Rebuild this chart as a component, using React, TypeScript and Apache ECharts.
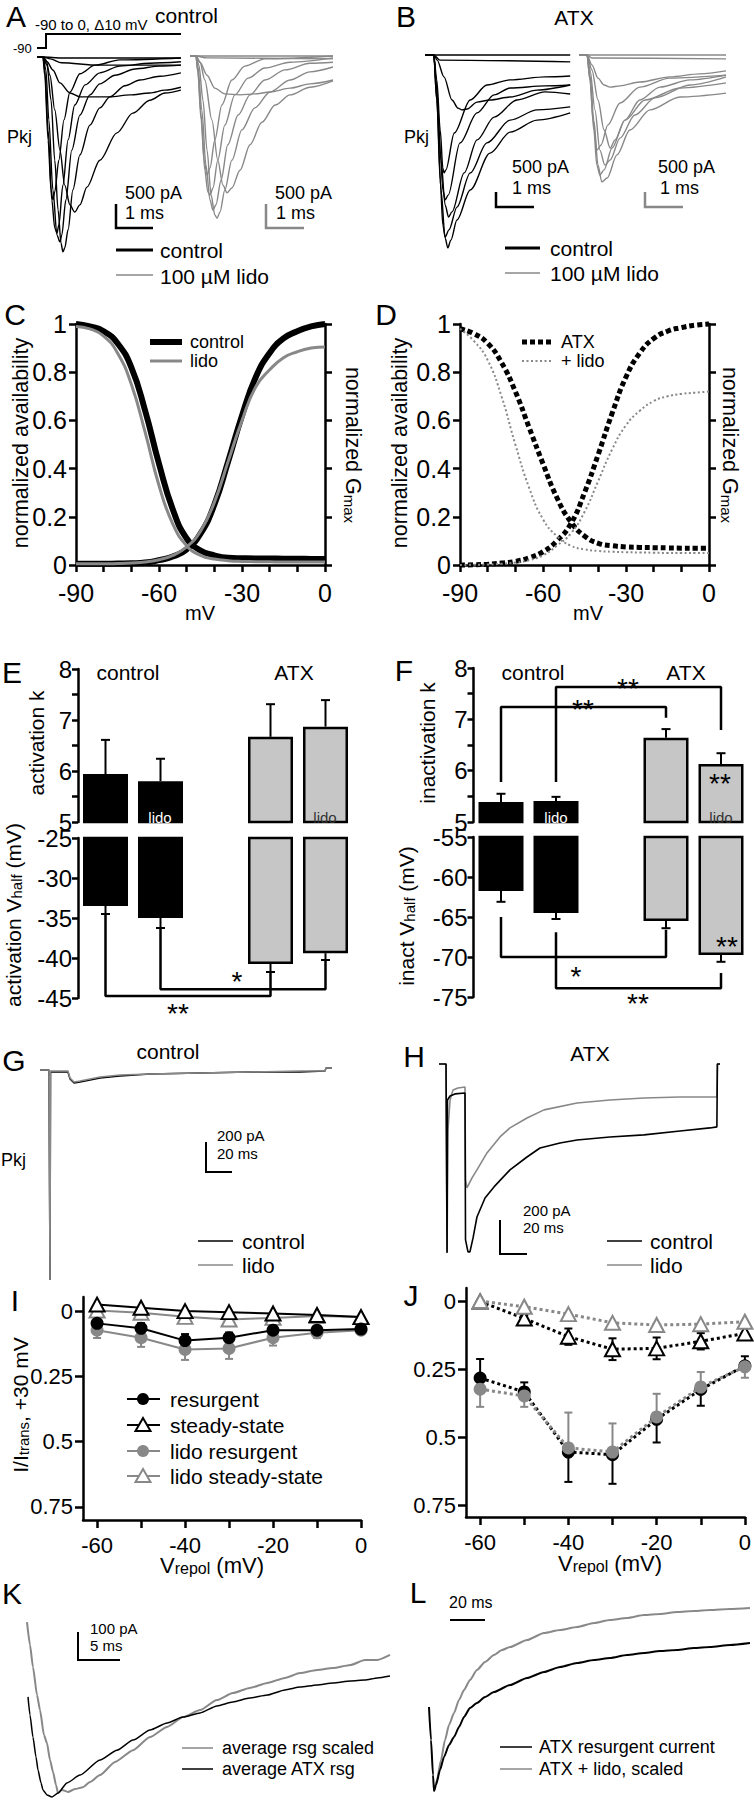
import React, { useEffect, useRef } from 'react';
import * as echarts from 'echarts';

const FONT = '"Liberation Sans", Arial, Helvetica, sans-serif';
const BLACK = '#000000';
const GRAY = '#888888';
const BAR_GRAY = '#c6c6c6';

// ---------- Panel A: Na currents, steps -90..0 mV (time ms, current nA) ----------
const aCtrlM70 = [[-0.16, 0], [0, 0], [0.5, -0.02], [3.73, -0.02]];
const aCtrlM60 = [[-0.16, 0], [0, 0], [0.2, -0.04], [0.5, -0.12], [1.5, -0.17], [3.73, -0.17]];
const aCtrlM50 = [[-0.16, 0], [0, 0], [0.11, -0.1], [0.27, -0.27], [0.46, -0.54], [0.73, -0.75], [1.0, -0.83], [1.41, -0.83], [1.81, -0.83], [2.35, -0.79], [2.89, -0.75], [3.3, -0.69], [3.73, -0.63]];
const aCtrlM40 = [[-0.16, 0], [0, 0], [0.08, -0.06], [0.19, -0.38], [0.32, -1.1], [0.46, -1.94], [0.59, -2.67], [0.73, -3.08], [0.86, -3.23], [1.0, -3.08], [1.19, -2.71], [1.54, -2.15], [2.0, -1.58], [2.43, -1.17], [2.89, -0.9], [3.3, -0.75], [3.73, -0.69]];
const aCtrlM30 = [[-0.16, 0], [0, 0], [0.11, -0.17], [0.22, -0.9], [0.32, -2.15], [0.41, -3.19], [0.49, -3.88], [0.54, -4.06], [0.59, -3.98], [0.68, -3.6], [0.81, -2.77], [1.0, -2.04], [1.27, -1.42], [1.54, -1.06], [1.81, -0.83], [2.22, -0.6], [2.62, -0.48], [3.16, -0.4], [3.73, -0.33]];
const aCtrlM20 = [[-0.16, 0], [0, 0], [0.08, -0.27], [0.16, -1.31], [0.27, -2.77], [0.38, -3.71], [0.46, -3.85], [0.51, -3.71], [0.62, -2.98], [0.78, -1.94], [1.0, -1.21], [1.27, -0.79], [1.54, -0.56], [1.95, -0.38], [2.49, -0.25], [3.16, -0.19], [3.73, -0.17]];
const aCtrlM10 = [[-0.16, 0], [0, 0], [0.05, -0.27], [0.14, -1.52], [0.24, -2.98], [0.32, -3.56], [0.38, -3.67], [0.43, -3.5], [0.54, -2.67], [0.68, -1.73], [0.86, -1.0], [1.14, -0.58], [1.54, -0.33], [2.08, -0.19], [2.89, -0.13], [3.73, -0.1]];
const aCtrl0 = [[-0.16, 0], [0, 0], [0.05, -0.38], [0.14, -1.73], [0.22, -2.77], [0.27, -2.98], [0.32, -2.81], [0.43, -2.15], [0.57, -1.31], [0.73, -0.73], [1.0, -0.35], [1.41, -0.17], [2.08, -0.06], [3.73, -0.02]];

const aLidoM70 = [[-0.16, 0], [0, 0], [3.7, 0]];
const aLidoM60 = [[-0.16, 0], [0, 0], [0.3, -0.04], [3.7, -0.06]];
const aLidoM50 = [[-0.16, 0], [0, 0], [0.11, -0.13], [0.3, -0.4], [0.51, -0.67], [0.78, -0.79], [1.19, -0.81], [1.59, -0.79], [2.0, -0.75], [2.54, -0.67], [3.08, -0.58], [3.7, -0.5]];
const aLidoM40 = [[-0.16, 0], [0, 0], [0.11, -0.13], [0.24, -0.5], [0.43, -1.33], [0.59, -2.17], [0.73, -2.69], [0.84, -2.85], [0.97, -2.75], [1.19, -2.38], [1.46, -1.85], [1.78, -1.38], [2.14, -1.02], [2.54, -0.81], [3.08, -0.65], [3.7, -0.52]];
const aLidoM30 = [[-0.16, 0], [0, 0], [0.08, -0.19], [0.19, -0.92], [0.3, -1.96], [0.41, -2.9], [0.51, -3.31], [0.57, -3.38], [0.65, -3.25], [0.78, -2.79], [0.97, -2.17], [1.24, -1.54], [1.59, -1.08], [2.0, -0.75], [2.54, -0.5], [3.08, -0.33], [3.7, -0.23]];
const aLidoM20 = [[-0.16, 0], [0, 0], [0.05, -0.19], [0.16, -1.13], [0.27, -2.27], [0.38, -3.0], [0.46, -3.21], [0.54, -3.1], [0.68, -2.58], [0.86, -1.85], [1.14, -1.23], [1.46, -0.81], [1.86, -0.5], [2.41, -0.29], [3.08, -0.15], [3.7, -0.13]];
const aLidoM10 = [[-0.16, 0], [0, 0], [0.05, -0.29], [0.14, -1.23], [0.24, -2.38], [0.32, -2.83], [0.38, -2.9], [0.46, -2.75], [0.59, -2.17], [0.78, -1.44], [1.05, -0.81], [1.41, -0.46], [1.86, -0.25], [2.54, -0.13], [3.7, -0.04]];
const aLido0 = [[-0.16, 0], [0, 0], [0.05, -0.33], [0.14, -1.33], [0.22, -2.17], [0.3, -2.48], [0.38, -2.33], [0.51, -1.75], [0.7, -1.02], [0.97, -0.5], [1.32, -0.21], [1.86, -0.06], [3.7, 0]];

// ---------- Panel B: ATX (time ms, current nA) ----------
const bCtrlM70 = [[-0.23, 0], [3.59, 0]];
const bCtrlM60 = [[-0.23, 0], [0, 0], [0.16, -0.17], [3.59, -0.23]];
const bCtrlM50 = [[-0.23, 0], [0, 0], [0.09, -0.17], [0.27, -0.73], [0.48, -1.5], [0.64, -1.77], [0.74, -1.83], [0.88, -1.8], [1.14, -1.57], [1.48, -1.5], [2.01, -1.4], [2.72, -1.17], [3.59, -1.0]];
const bCtrlM40 = [[-0.23, 0], [0, 0], [0.08, -0.83], [0.17, -2.5], [0.24, -3.77], [0.27, -3.93], [0.32, -3.83], [0.54, -2.6], [0.96, -1.5], [1.4, -1.0], [2.01, -0.83], [2.93, -0.73], [3.59, -0.7]];
const bCtrlM30 = [[-0.23, 0], [0, 0], [0.08, -1.17], [0.17, -3.17], [0.24, -4.5], [0.3, -4.83], [0.38, -4.67], [0.69, -2.93], [1.14, -1.93], [1.59, -1.33], [2.01, -1.1], [2.93, -1.03], [3.59, -1.0]];
const bCtrlM20 = [[-0.23, 0], [0, 0], [0.08, -1.17], [0.19, -3.5], [0.3, -5.0], [0.39, -5.4], [0.48, -5.23], [0.8, -3.93], [1.14, -2.83], [1.59, -2.07], [2.19, -1.5], [2.93, -1.23], [3.59, -1.3]];
const bCtrlM10 = [[-0.23, 0], [0, 0], [0.08, -1.5], [0.17, -4.17], [0.24, -5.67], [0.3, -6.07], [0.4, -5.83], [0.61, -5.07], [0.96, -3.93], [1.4, -2.93], [2.01, -2.17], [2.72, -1.83], [3.59, -1.73]];
const bCtrl0 = [[-0.23, 0], [0, 0], [0.08, -1.5], [0.19, -4.5], [0.3, -6.1], [0.37, -6.43], [0.45, -6.17], [0.61, -5.5], [0.96, -4.5], [1.48, -3.27], [2.01, -2.57], [2.72, -2.17], [3.59, -1.93]];

const bLidoM70 = [[-0.21, 0], [3.66, 0]];
const bLidoM60 = [[-0.21, 0], [0, 0], [0.13, -0.1], [3.66, -0.13]];
const bLidoM50 = [[-0.21, 0], [0, 0], [0.13, -0.33], [0.29, -0.77], [0.45, -1.0], [0.61, -1.07], [0.87, -1.03], [1.39, -0.9], [2.18, -0.73], [2.97, -0.63], [3.66, -0.53]];
const bLidoM40 = [[-0.21, 0], [0, 0], [0.13, -0.5], [0.29, -1.5], [0.45, -2.5], [0.61, -3.1], [0.74, -2.83], [1.0, -2.17], [1.39, -1.5], [1.92, -1.07], [2.71, -0.83], [3.66, -0.67]];
const bLidoM30 = [[-0.21, 0], [0, 0], [0.08, -0.5], [0.21, -1.83], [0.34, -3.17], [0.47, -3.67], [0.61, -3.5], [0.87, -2.77], [1.26, -2.0], [1.79, -1.43], [2.71, -1.0], [3.66, -0.73]];
const bLidoM20 = [[-0.21, 0], [0, 0], [0.08, -0.67], [0.18, -2.17], [0.29, -3.67], [0.39, -4.23], [0.53, -4.1], [0.79, -3.33], [1.13, -2.5], [1.66, -1.83], [2.45, -1.4], [3.66, -1.27]];
const bLidoM10 = [[-0.21, 0], [0, 0], [0.08, -0.83], [0.18, -2.5], [0.26, -3.67], [0.34, -4.0], [0.45, -3.83], [0.66, -3.1], [1.0, -2.17], [1.53, -1.5], [2.45, -1.1], [3.66, -0.93]];
const bLido0 = [[-0.21, 0], [0, 0], [0.08, -0.83], [0.16, -2.17], [0.26, -3.17], [0.37, -3.0], [0.55, -2.33], [0.87, -1.6], [1.39, -1.07], [2.18, -0.77], [3.66, -0.67]];

// ---------- Panels C, D: Boltzmann relations (mV vs normalized) ----------
const vCD = [-90, -85, -80, -75, -70, -65, -60, -55, -50, -45, -40, -35, -30, -25, -20, -15, -10, -5, 0];
const cCtrlInact = [1.0, 0.99, 0.97, 0.92, 0.82, 0.64, 0.42, 0.23, 0.11, 0.06, 0.04, 0.03, 0.028, 0.027, 0.027, 0.026, 0.026, 0.025, 0.025];
const cLidoInact = [0.99, 0.98, 0.95, 0.88, 0.75, 0.55, 0.33, 0.17, 0.08, 0.04, 0.025, 0.018, 0.015, 0.014, 0.013, 0.012, 0.012, 0.012, 0.012];
const cCtrlAct = [0.005, 0.005, 0.005, 0.006, 0.007, 0.01, 0.02, 0.035, 0.065, 0.13, 0.25, 0.43, 0.62, 0.78, 0.88, 0.94, 0.97, 0.99, 1.0];
const cLidoAct = [0.005, 0.005, 0.005, 0.006, 0.008, 0.012, 0.022, 0.04, 0.075, 0.14, 0.26, 0.43, 0.6, 0.74, 0.81, 0.86, 0.885, 0.9, 0.905];
const dAtxInact = [0.98, 0.96, 0.92, 0.84, 0.72, 0.57, 0.42, 0.28, 0.18, 0.12, 0.09, 0.08, 0.075, 0.073, 0.072, 0.071, 0.07, 0.07, 0.07];
const dLidoInact = [0.98, 0.93, 0.85, 0.7, 0.5, 0.32, 0.19, 0.12, 0.08, 0.065, 0.058, 0.055, 0.053, 0.052, 0.051, 0.05, 0.05, 0.05, 0.05];
const dAtxAct = [0.0, 0.001, 0.003, 0.008, 0.015, 0.03, 0.055, 0.1, 0.17, 0.3, 0.46, 0.63, 0.78, 0.88, 0.94, 0.97, 0.985, 0.995, 1.0];
const dLidoAct = [0.0, 0.001, 0.002, 0.005, 0.01, 0.02, 0.04, 0.08, 0.13, 0.22, 0.35, 0.48, 0.58, 0.64, 0.68, 0.7, 0.71, 0.715, 0.72];

// ---------- Panels E, F: bars (control, control+lido, ATX, ATX+lido) ----------
const barPos = [0, 1, 3, 4];
const eK = [5.94, 5.8, 6.67, 6.87];
const eKErr = [0.67, 0.44, 0.64, 0.52];
const eV = [-33.5, -35.0, -40.75, -39.4];
const eVErr = [1.0, 1.25, 1.0, 0.85];
const fK = [5.39, 5.41, 6.64, 6.13];
const fKErr = [0.16, 0.08, 0.17, 0.21];
const fV = [-61.75, -64.5, -65.5, -69.75];
const fVErr = [1.35, 0.75, 0.9, 0.85];
const eBracket1 = [[0, -34.5], [0, -44.75], [3, -44.75], [3, -41.75]];
const eBracket2 = [[1, -36.25], [1, -43.9], [4, -43.9], [4, -40.25]];
const fBracket1 = [[0, 5.78], [0, 7.24], [3, 7.24], [3, 7.03]];
const fBracket2 = [[1, 5.78], [1, 7.63], [4, 7.63], [4, 6.79]];
const fBracket3 = [[0, -65], [0, -70], [3, -70], [3, -66.6]];
const fBracket4 = [[1, -66.9], [1, -73.9], [4, -73.9], [4, -72.0]];

// ---------- Panels G, H: resurgent protocol traces (ms, pA) ----------
const gCtrl = [[0, 0], [6.9, 0], [7.7, -1400], [8.1, -13], [21.5, -13], [23.1, -60], [26.2, -87], [30.8, -80], [38.5, -67], [46.2, -53], [61.5, -40], [84.6, -27], [123.1, -20], [161.5, -13], [200, -13], [219.2, -7], [220, 13], [224.6, 13]];
const gLido = [[0, 0], [6.9, 0], [7.7, -1400], [8.1, -7], [21.5, -7], [23.1, -53], [26.2, -80], [30.8, -73], [38.5, -60], [46.2, -47], [61.5, -33], [84.6, -27], [123.1, -20], [161.5, -13], [200, -7], [219.2, -7], [220, 13], [224.6, 13]];
const hCtrl = [[0, 0], [5.4, 0], [6.2, -1111], [6.5, -212], [8.5, -188], [12.3, -176], [20.0, -171], [20.4, -1035], [22.3, -1105], [23.8, -1105], [26.2, -1023], [29.2, -900], [35.4, -788], [42.3, -723], [54.6, -623], [67.7, -547], [77.7, -494], [93.1, -465], [106.2, -447], [131.5, -429], [157.7, -417], [185.4, -394], [208.5, -376], [213.8, -370], [214.2, 0], [216.2, 0]];
const hLido = [[0, 0], [5.4, 0], [6.2, -1111], [6.9, -388], [8.5, -212], [10.8, -153], [14.6, -141], [20.0, -135], [20.4, -682], [21.5, -729], [25.4, -670], [29.2, -623], [36.9, -523], [46.9, -429], [54.6, -376], [67.7, -318], [80.8, -270], [106.2, -229], [131.5, -212], [157.7, -200], [185.4, -194], [213.8, -194], [214.2, 0], [216.2, 0]];

// ---------- Panels I, J: normalized resurgent / steady-state vs Vrepol ----------
const vRepol = [-60, -50, -40, -30, -20, -10, 0];
const iRes = [0.047, 0.066, 0.113, 0.102, 0.073, 0.073, 0.069];
const iResErr = [0.02, 0.02, 0.025, 0.02, 0.02, 0.015, 0.015];
const iSs = [-0.025, -0.013, 0, 0.004, 0.009, 0.015, 0.023];
const iLidoRes = [0.073, 0.102, 0.147, 0.143, 0.102, 0.083, 0.073];
const iLidoResErr = [0.03, 0.035, 0.04, 0.04, 0.03, 0.02, 0.015];
const iLidoSs = [-0.002, 0.006, 0.022, 0.032, 0.026, 0.019, 0.023];
const jSs = [0.002, 0.064, 0.131, 0.177, 0.174, 0.148, 0.119];
const jSsErr = [0.005, 0.012, 0.03, 0.04, 0.04, 0.03, 0.02];
const jLidoSs = [0, 0.021, 0.048, 0.08, 0.088, 0.085, 0.076];
const jRes = [0.283, 0.334, 0.555, 0.565, 0.435, 0.325, 0.238];
const jResErr = [-0.07, -0.035, 0.11, 0.107, 0.085, 0.06, -0.035];
const jLidoRes = [0.324, 0.349, 0.54, 0.555, 0.426, 0.316, 0.242];
const jLidoResErr = [0.065, 0.04, -0.13, -0.105, -0.085, -0.055, 0.04];

// ---------- Panel K: average resurgent currents (ms, pA) ----------
const kScaled = [[0, -79], [0.36, -161], [0.71, -239], [1.19, -339], [1.55, -393], [2.02, -482], [2.38, -511], [2.74, -571], [3.1, -614], [3.45, -660], [3.69, -689], [4.17, -678], [4.88, -685], [5.71, -675], [6.67, -668], [7.5, -650], [8.69, -625], [10.48, -578], [12.62, -536], [14.64, -489], [16.67, -453], [18.57, -418], [20.6, -393], [22.6, -357], [24.5, -332], [26.5, -314], [28.6, -296], [30.7, -278], [32.5, -261], [34.5, -250], [36.4, -243], [38.5, -232], [40.2, -214], [41.7, -214], [43.2, -196]];
const kAtx = [[0.12, -346], [0.36, -411], [0.71, -489], [1.07, -560], [1.31, -607], [1.67, -653], [1.9, -678], [2.38, -696], [2.98, -703], [3.69, -689], [4.76, -653], [6.31, -625], [8.69, -571], [10.71, -536], [12.62, -500], [14.64, -464], [16.67, -439], [18.57, -418], [20.6, -403], [22.6, -378], [24.5, -364], [26.5, -350], [28.6, -339], [30.7, -321], [32.5, -311], [34.5, -303], [36.4, -296], [38.5, -289], [40.2, -286], [41.7, -278], [43.2, -271]];

// ---------- Panel L: ATX resurgent vs ATX + lido scaled (ms, pA) ----------
const lAtx = [[0, -321], [1.14, -420], [2.29, -525], [2.86, -573], [4.0, -555], [6.29, -510], [8.57, -471], [11.43, -435], [14.29, -411], [17.14, -381], [20.0, -351], [23.4, -324], [27.4, -309], [32.0, -291], [37.1, -276], [46.3, -255], [56.0, -234], [65.7, -216], [74.9, -201], [84.6, -189], [94.3, -180], [103.4, -174], [113.1, -165], [122.9, -159], [132.0, -153], [141.7, -150], [151.4, -144], [160.6, -141], [172.0, -135], [183.4, -129]];
const lLido = [[2.86, -573], [4.57, -540], [6.86, -480], [9.14, -420], [11.43, -375], [14.29, -339], [17.14, -300], [20.0, -270], [23.4, -240], [27.4, -210], [32.0, -186], [37.1, -165], [41.7, -150], [46.3, -141], [56.0, -120], [65.7, -99], [74.9, -90], [84.6, -81], [94.3, -69], [103.4, -60], [113.1, -54], [122.9, -45], [132.0, -42], [141.7, -36], [151.4, -33], [160.6, -30], [172.0, -27], [183.4, -24]];

// ================= option builder =================
function buildOption(): any {
  const grids = [
    { left: 37, top: 42.6, width: 143.9, height: 220.8 },   // 0 A ctrl
    { left: 190, top: 41.6, width: 143, height: 220.8 },    // 1 A lido
    { left: 425, top: 43, width: 145.2, height: 216 },      // 2 B ctrl
    { left: 579, top: 43, width: 147, height: 216 },        // 3 B lido
    { left: 76, top: 324, width: 249, height: 241 },        // 4 C
    { left: 460, top: 324, width: 249, height: 241 },       // 5 D
    { left: 78, top: 669, width: 275, height: 153 },        // 6 E top
    { left: 78, top: 838, width: 275, height: 160 },        // 7 E bottom
    { left: 473.5, top: 668, width: 275, height: 154 },     // 8 F top
    { left: 473.5, top: 837, width: 275, height: 160 },     // 9 F bottom
    { left: 40, top: 1061, width: 292, height: 226.5 },     // 10 G
    { left: 439, top: 1055.5, width: 281, height: 204 },    // 11 H
    { left: 83, top: 1297, width: 278, height: 223 },       // 12 I
    { left: 466, top: 1288, width: 280, height: 229 },      // 13 J
    { left: 27, top: 1600, width: 363, height: 198.9 },     // 14 K
    { left: 429, top: 1600, width: 321, height: 200 },      // 15 L
  ];

  const hidden = (gridIndex: number, min: number, max: number) => ({
    type: 'value', gridIndex, min, max, show: false, splitLine: { show: false },
  });
  const line = { show: true, onZero: false, lineStyle: { color: BLACK, width: 2.5 } };
  const tick = (len = 7) => ({ show: true, inside: false, length: len, lineStyle: { color: BLACK, width: 2.5 } });
  const label = (size: number, margin: number) => ({ show: true, color: BLACK, fontSize: size, fontFamily: FONT, margin });

  const xAxis: any[] = [
    hidden(0, -0.16, 3.73),
    hidden(1, -0.16, 3.7),
    hidden(2, -0.23, 3.59),
    hidden(3, -0.21, 3.66),
    { type: 'value', gridIndex: 4, min: -90, max: 0, interval: 30, axisLine: line, axisTick: tick(7),
      minorTick: { show: true, splitNumber: 3, length: 7, lineStyle: { color: BLACK, width: 2.5 } },
      splitLine: { show: false }, minorSplitLine: { show: false }, axisLabel: label(25, 15) },
    { type: 'value', gridIndex: 5, min: -90, max: 0, interval: 30, axisLine: line, axisTick: tick(7),
      minorTick: { show: true, splitNumber: 3, length: 7, lineStyle: { color: BLACK, width: 2.5 } },
      splitLine: { show: false }, minorSplitLine: { show: false }, axisLabel: label(25, 15) },
    hidden(6, -0.5, 4.5),
    hidden(7, -0.5, 4.5),
    hidden(8, -0.5, 4.5),
    hidden(9, -0.5, 4.5),
    hidden(10, 0, 224.6),
    hidden(11, 0, 216.2),
    { type: 'value', gridIndex: 12, min: -63.2, max: 0, axisLine: line,
      axisTick: { ...tick(8), customValues: [-60, -50, -40, -30, -20, -10, 0] },
      axisLabel: { ...label(22, 14), customValues: [-60, -40, -20, 0] }, splitLine: { show: false } },
    { type: 'value', gridIndex: 13, min: -63.2, max: 0, axisLine: line,
      axisTick: { ...tick(8), customValues: [-60, -50, -40, -30, -20, -10, 0] },
      axisLabel: { ...label(22, 14), customValues: [-60, -40, -20, 0] }, splitLine: { show: false } },
    hidden(14, 0, 43.2),
    hidden(15, 0, 183.4),
  ];

  const yAxis: any[] = [
    hidden(0, -4.3, 0.3),
    hidden(1, -4.3, 0.3),
    hidden(2, -6.8, 0.4),
    hidden(3, -6.8, 0.4),
    { type: 'value', gridIndex: 4, min: 0, max: 1, interval: 0.2, position: 'left', axisLine: line, axisTick: tick(7),
      splitLine: { show: false }, axisLabel: label(25, 9) },
    { type: 'value', gridIndex: 5, min: 0, max: 1, interval: 0.2, position: 'left', axisLine: line, axisTick: tick(7),
      splitLine: { show: false }, axisLabel: label(25, 9) },
    { type: 'value', gridIndex: 6, min: 5, max: 8, interval: 1, axisLine: line, axisTick: tick(6),
      minorTick: { show: true, splitNumber: 2, length: 6, lineStyle: { color: BLACK, width: 2.5 } },
      splitLine: { show: false }, minorSplitLine: { show: false }, axisLabel: label(24, 6) },
    { type: 'value', gridIndex: 7, min: -45, max: -25, interval: 5, axisLine: line, axisTick: tick(6),
      splitLine: { show: false }, axisLabel: label(24, 6) },
    { type: 'value', gridIndex: 8, min: 5, max: 8, interval: 1, axisLine: line, axisTick: tick(6),
      minorTick: { show: true, splitNumber: 2, length: 6, lineStyle: { color: BLACK, width: 2.5 } },
      splitLine: { show: false }, minorSplitLine: { show: false }, axisLabel: label(24, 6) },
    { type: 'value', gridIndex: 9, min: -75, max: -55, interval: 5, axisLine: line, axisTick: tick(6),
      splitLine: { show: false }, axisLabel: label(24, 6) },
    hidden(10, -1450, 60),
    hidden(11, -1150, 50),
    { type: 'value', gridIndex: 12, inverse: true, min: -0.054, max: 0.8, axisLine: line,
      axisTick: { ...tick(8), customValues: [0, 0.25, 0.5, 0.75] },
      axisLabel: { ...label(22, 10), customValues: [0, 0.25, 0.5, 0.75] }, splitLine: { show: false } },
    { type: 'value', gridIndex: 13, inverse: true, min: -0.048, max: 0.794, axisLine: line,
      axisTick: { ...tick(8), customValues: [0, 0.25, 0.5, 0.75] },
      axisLabel: { ...label(22, 10), customValues: [0, 0.25, 0.5, 0.75] }, splitLine: { show: false } },
    hidden(14, -710, 0),
    hidden(15, -600, 0),
    // 16, 17: right axes of C and D (normalized Gmax)
    { type: 'value', gridIndex: 4, min: 0, max: 1, interval: 0.2, position: 'right', axisLine: line, axisTick: tick(7),
      splitLine: { show: false }, axisLabel: { show: false } },
    { type: 'value', gridIndex: 5, min: 0, max: 1, interval: 0.2, position: 'right', axisLine: line, axisTick: tick(7),
      splitLine: { show: false }, axisLabel: { show: false } },
  ];

  const series: any[] = [];
  const trace = (data: any, idx: number, color: string, width: number, smooth: number | boolean = 0.3, extra: any = {}) => {
    series.push({
      type: 'line', xAxisIndex: idx, yAxisIndex: idx, data, symbol: 'none', showSymbol: false,
      smooth, smoothMonotone: extra.mono ? 'x' : undefined, clip: false, silent: true,
      lineStyle: { color, width, ...(extra.lineStyle || {}) }, z: extra.z || 2,
    });
  };
  const mono = { mono: true };

  // A, B
  [aCtrlM70, aCtrlM60, aCtrlM50, aCtrlM40, aCtrlM30, aCtrlM20, aCtrlM10, aCtrl0].forEach((d) => trace(d, 0, BLACK, 1.4, 0.3, mono));
  [aLidoM70, aLidoM60, aLidoM50, aLidoM40, aLidoM30, aLidoM20, aLidoM10, aLido0].forEach((d) => trace(d, 1, GRAY, 1.4, 0.3, mono));
  [bCtrlM70, bCtrlM60, bCtrlM50, bCtrlM40, bCtrlM30, bCtrlM20, bCtrlM10, bCtrl0].forEach((d) => trace(d, 2, BLACK, 1.4, 0.3, mono));
  [bLidoM70, bLidoM60, bLidoM50, bLidoM40, bLidoM30, bLidoM20, bLidoM10, bLido0].forEach((d) => trace(d, 3, GRAY, 1.4, 0.3, mono));

  // C
  const vz = (vals: number[]) => vCD.map((v, i) => [v, vals[i]]);
  trace(vz(cCtrlInact), 4, BLACK, 6, 0.5);
  trace(vz(cCtrlAct), 4, BLACK, 6, 0.5);
  trace(vz(cLidoInact), 4, GRAY, 3, 0.5);
  trace(vz(cLidoAct), 4, GRAY, 3, 0.5);
  // D
  trace(vz(dAtxInact), 5, BLACK, 5, 0.5, { lineStyle: { type: [5, 3], cap: 'butt' } });
  trace(vz(dAtxAct), 5, BLACK, 5, 0.5, { lineStyle: { type: [5, 3], cap: 'butt' } });
  trace(vz(dLidoInact), 5, GRAY, 2, 0.5, { lineStyle: { type: [2, 2.5], cap: 'butt' } });
  trace(vz(dLidoAct), 5, GRAY, 2, 0.5, { lineStyle: { type: [2, 2.5], cap: 'butt' } });

  // E, F bars
  const bars = (idx: number, vals: number[]) => series.push({
    type: 'bar', xAxisIndex: idx, yAxisIndex: idx, barWidth: 45, clip: true, silent: true, z: 2,
    data: vals.map((v, i) => ({ value: [barPos[i], v], itemStyle: { color: i < 2 ? BLACK : BAR_GRAY, borderColor: BLACK, borderWidth: 2.5 } })),
  });
  const errBars = (idx: number, items: number[][], color: string, cap = 9, width = 2) => series.push({
    type: 'custom', xAxisIndex: idx, yAxisIndex: idx, silent: true, z: 3, data: items,
    renderItem: (_p: any, api: any) => {
      const x = api.value(0), a = api.value(1), b = api.value(2);
      const p0 = api.coord([x, a]);
      const p1 = api.coord([x, b]);
      return {
        type: 'group', children: [
          { type: 'line', shape: { x1: p0[0], y1: p0[1], x2: p1[0], y2: p1[1] }, style: { stroke: color, lineWidth: width } },
          { type: 'line', shape: { x1: p1[0] - cap / 2, y1: p1[1], x2: p1[0] + cap / 2, y2: p1[1] }, style: { stroke: color, lineWidth: width } },
        ],
      };
    },
  });
  const bracket = (idx: number, data: number[][]) => series.push({
    type: 'line', xAxisIndex: idx, yAxisIndex: idx, data, symbol: 'none', showSymbol: false, clip: false, silent: true, z: 3,
    lineStyle: { color: BLACK, width: 2.5 },
  });
  bars(6, eK); errBars(6, eK.map((v, i) => [barPos[i], v, v + eKErr[i]]), BLACK);
  bars(7, eV); errBars(7, eV.map((v, i) => [barPos[i], v, v - eVErr[i]]), BLACK);
  bars(8, fK); errBars(8, fK.map((v, i) => [barPos[i], v, v + fKErr[i]]), BLACK);
  bars(9, fV); errBars(9, fV.map((v, i) => [barPos[i], v, v - fVErr[i]]), BLACK);
  bracket(7, eBracket1); bracket(7, eBracket2);
  bracket(8, fBracket1); bracket(8, fBracket2);
  bracket(9, fBracket3); bracket(9, fBracket4);

  // G, H
  trace(gCtrl, 10, BLACK, 1.5, false);
  trace(gLido, 10, GRAY, 1.5, false);
  trace(hLido, 11, GRAY, 1.6, false);
  trace(hCtrl, 11, BLACK, 1.6, false);

  // I
  const vr = (vals: number[]) => vRepol.map((v, i) => [v, vals[i]]);
  const sym = (idx: number, vals: number[], color: string, kind: 'circle' | 'tri', dashed: boolean, z: number) => series.push({
    type: 'line', xAxisIndex: idx, yAxisIndex: idx, data: vr(vals), clip: false, silent: true, z,
    symbol: kind === 'circle' ? 'circle' : 'triangle', symbolSize: kind === 'circle' ? 13 : [15, 14], showAllSymbol: true,
    itemStyle: kind === 'circle' ? { color } : { color: '#ffffff', borderColor: color, borderWidth: 2 },
    lineStyle: { color, width: dashed ? 3 : 2, type: dashed ? [3, 3] : 'solid' },
  });
  const symErr = (vals: number[], errs: number[]) => {
    const out: number[][] = [];
    vals.forEach((v, i) => { out.push([vRepol[i], v, v - errs[i]]); out.push([vRepol[i], v, v + errs[i]]); });
    return out;
  };
  errBars(12, symErr(iLidoRes, iLidoResErr), GRAY, 8);
  errBars(12, symErr(iRes, iResErr), BLACK, 8);
  sym(12, iLidoSs, GRAY, 'tri', false, 4);
  sym(12, iLidoRes, GRAY, 'circle', false, 4);
  sym(12, iSs, BLACK, 'tri', false, 5);
  sym(12, iRes, BLACK, 'circle', false, 5);

  // J
  errBars(13, symErr(jSs, jSsErr), BLACK, 8);
  errBars(13, jRes.map((v, i) => [vRepol[i], v, v + jResErr[i]]), BLACK, 8);
  errBars(13, jLidoRes.map((v, i) => [vRepol[i], v, v + jLidoResErr[i]]), GRAY, 8);
  sym(13, jSs, BLACK, 'tri', true, 4);
  sym(13, jLidoSs, GRAY, 'tri', true, 4);
  sym(13, jRes, BLACK, 'circle', true, 4);
  sym(13, jLidoRes, GRAY, 'circle', true, 5);

  // K, L
  trace(kScaled, 14, GRAY, 2, 0.2, mono);
  trace(kAtx, 14, BLACK, 1.5, 0.2, mono);
  trace(lLido, 15, GRAY, 2, 0.2, mono);
  trace(lAtx, 15, BLACK, 2, 0.2, mono);

  // ---------- graphic annotations ----------
  const g: any[] = [];
  const T = (text: string, x: number, y: number, size: number, opt: any = {}) => g.push({
    type: 'text', x, y, rotation: opt.rot || 0, z: 50, silent: true,
    style: {
      text, fontFamily: FONT, fontSize: size, fill: opt.fill || BLACK,
      align: opt.align || 'left', verticalAlign: 'middle', textAlign: opt.align || 'left', textVerticalAlign: 'middle',
    },
  });
  const R = (text: string, x: number, y: number, size: number, rot = 0, align = 'center') => g.push({
    type: 'text', x, y, rotation: rot, z: 50, silent: true,
    style: {
      text, fontFamily: FONT, fontSize: size, fill: BLACK, align, verticalAlign: 'middle', textAlign: align, textVerticalAlign: 'middle',
      rich: {
        m: { fontFamily: FONT, fontSize: size, fill: BLACK, color: BLACK, verticalAlign: 'bottom' },
        s: { fontFamily: FONT, fontSize: Math.round(size * 0.72), fill: BLACK, color: BLACK, verticalAlign: 'bottom' },
      },
    },
  });
  const Ln = (x1: number, y1: number, x2: number, y2: number, stroke: string, lineWidth: number, dash?: number[]) => g.push({
    type: 'line', z: 50, silent: true, shape: { x1, y1, x2, y2 },
    style: dash ? { stroke, lineWidth, lineDash: dash } : { stroke, lineWidth },
  });
  const PL = (points: number[][], stroke: string, lineWidth: number) => g.push({
    type: 'polyline', z: 50, silent: true, shape: { points }, style: { stroke, lineWidth, fill: null },
  });

  // panel letters
  T('A', 16, 16, 30, { align: 'center' });
  T('B', 406, 16, 30, { align: 'center' });
  T('C', 15, 314, 30, { align: 'center' });
  T('D', 386, 314, 30, { align: 'center' });
  T('E', 12, 672, 30, { align: 'center' });
  T('F', 404, 670, 30, { align: 'center' });
  T('G', 14, 1060, 30, { align: 'center' });
  T('H', 414, 1056, 30, { align: 'center' });
  T('I', 15, 1300, 30, { align: 'center' });
  T('J', 411, 1295, 30, { align: 'center' });
  T('K', 12, 1593, 30, { align: 'center' });
  T('L', 418, 1592, 30, { align: 'center' });

  // A
  T('-90 to 0, Δ10 mV', 35, 24, 15);
  T('control', 155, 15, 21);
  T('-90', 13, 48, 13);
  PL([[37, 48], [46, 48], [46, 34], [181, 34]], BLACK, 2);
  T('Pkj', 7, 137, 18);
  T('500 pA', 125, 193, 18); T('1 ms', 125, 213, 18);
  PL([[116, 204], [116, 228], [153, 228]], BLACK, 2.5);
  T('500 pA', 275, 193, 18); T('1 ms', 276, 213, 18);
  PL([[266, 204], [266, 228], [304, 228]], GRAY, 2.5);
  Ln(116, 250, 153, 250, BLACK, 3); T('control', 160, 250, 21);
  Ln(116, 275, 153, 275, GRAY, 1.5); T('100 µM lido', 160, 276, 21);

  // B
  T('ATX', 574, 17, 21, { align: 'center' });
  T('Pkj', 404, 137, 18);
  T('500 pA', 512, 167, 18); T('1 ms', 512, 188, 18);
  PL([[496, 192], [496, 207], [534, 207]], BLACK, 2.5);
  T('500 pA', 658, 167, 18); T('1 ms', 660, 188, 18);
  PL([[645, 192], [645, 207], [683, 207]], GRAY, 2.5);
  Ln(505, 248, 540, 248, BLACK, 3); T('control', 550, 248, 21);
  Ln(505, 273, 540, 273, GRAY, 1.5); T('100 µM lido', 550, 273, 21);

  // C
  Ln(150, 342, 182, 342, BLACK, 6); T('control', 190, 342, 18);
  Ln(150, 361, 182, 361, GRAY, 3); T('lido', 190, 361, 18);
  T('normalized availability', 21, 443, 21.5, { align: 'center', rot: Math.PI / 2 });
  R('{m|normalized G}{s|max}', 353, 445, 21.5, -Math.PI / 2);
  T('mV', 200, 613, 20, { align: 'center' });

  // D
  Ln(522, 342, 552, 342, BLACK, 5, [5, 3]); T('ATX', 561, 342, 18);
  Ln(522, 361, 552, 361, GRAY, 2, [2, 2.5]); T('+ lido', 561, 361, 18);
  T('normalized availability', 400, 443, 21.5, { align: 'center', rot: Math.PI / 2 });
  R('{m|normalized G}{s|max}', 730, 445, 21.5, -Math.PI / 2);
  T('mV', 588, 613, 20, { align: 'center' });

  // E
  T('control', 128, 672, 21, { align: 'center' });
  T('ATX', 294, 672, 21, { align: 'center' });
  T('activation k', 36, 743, 21, { align: 'center', rot: Math.PI / 2 });
  R('{m|activation V}{s|half}{m| (mV)}', 13, 915, 21, Math.PI / 2);
  T('lido', 160, 817, 15, { align: 'center', fill: '#ffffff' });
  T('lido', 325, 817, 15, { align: 'center', fill: '#333333' });
  T('**', 178, 1013, 28, { align: 'center' });
  T('*', 237, 981, 28, { align: 'center' });

  // F
  T('control', 533, 672, 21, { align: 'center' });
  T('ATX', 686, 672, 21, { align: 'center' });
  T('inactivation k', 427, 743, 21, { align: 'center', rot: Math.PI / 2 });
  R('{m|inact V}{s|half}{m| (mV)}', 406, 916, 21, Math.PI / 2);
  T('lido', 556, 817, 15, { align: 'center', fill: '#ffffff' });
  T('lido', 721, 817, 15, { align: 'center', fill: '#333333' });
  T('**', 583, 709, 28, { align: 'center' });
  T('**', 628, 688, 28, { align: 'center' });
  T('**', 720, 783, 28, { align: 'center' });
  T('**', 727, 946, 28, { align: 'center' });
  T('*', 576, 976, 28, { align: 'center' });
  T('**', 638, 1003, 28, { align: 'center' });

  // G
  T('control', 168, 1051, 21, { align: 'center' });
  T('Pkj', 1, 1160, 18);
  T('200 pA', 217, 1135, 15); T('20 ms', 217, 1153, 15);
  PL([[206, 1142], [206, 1172], [232, 1172]], BLACK, 2);
  Ln(198, 1241, 233, 1241, BLACK, 1.5); T('control', 242, 1241, 21);
  Ln(198, 1265, 233, 1265, GRAY, 1.5); T('lido', 242, 1265, 21);

  // H
  T('ATX', 590, 1053, 21, { align: 'center' });
  T('200 pA', 523, 1210, 15); T('20 ms', 523, 1227, 15);
  PL([[500, 1220], [500, 1254], [527, 1254]], BLACK, 2);
  Ln(607, 1241, 642, 1241, BLACK, 1.5); T('control', 650, 1241, 21);
  Ln(607, 1265, 642, 1265, GRAY, 1.5); T('lido', 650, 1265, 21);

  // I
  R('{m|I/I}{s|trans}{m|, +30 mV}', 20, 1405, 21, Math.PI / 2);
  R('{m|V}{s|repol}{m| (mV)}', 212, 1565, 22, 0);
  const legRows = [
    { y: 1399, text: 'resurgent', color: BLACK, kind: 'circle' },
    { y: 1425, text: 'steady-state', color: BLACK, kind: 'tri' },
    { y: 1451, text: 'lido resurgent', color: GRAY, kind: 'circle' },
    { y: 1476, text: 'lido steady-state', color: GRAY, kind: 'tri' },
  ];
  legRows.forEach((r) => {
    Ln(127, r.y, 160, r.y, r.color, 2);
    if (r.kind === 'circle') {
      g.push({ type: 'circle', z: 51, silent: true, shape: { cx: 143, cy: r.y, r: 6 }, style: { fill: r.color } });
    } else {
      g.push({ type: 'polygon', z: 51, silent: true, shape: { points: [[143, r.y - 7], [150.5, r.y + 6], [135.5, r.y + 6]] }, style: { fill: '#ffffff', stroke: r.color, lineWidth: 2 } });
    }
    T(r.text, 170, r.y, 21);
  });

  // J
  R('{m|V}{s|repol}{m| (mV)}', 610, 1563, 22, 0);

  // K
  T('100 pA', 90, 1628, 15); T('5 ms', 90, 1645, 15);
  PL([[78, 1632], [78, 1660], [120, 1660]], BLACK, 2);
  Ln(182, 1748, 213, 1748, GRAY, 1.5); T('average rsg scaled', 222, 1748, 18);
  Ln(182, 1769, 213, 1769, BLACK, 1.5); T('average ATX rsg', 222, 1769, 18);

  // L
  T('20 ms', 449, 1602, 16);
  Ln(450, 1620, 485, 1620, BLACK, 2);
  Ln(500, 1747, 532, 1747, BLACK, 1.5); T('ATX resurgent current', 539, 1747, 18);
  Ln(500, 1769, 532, 1769, GRAY, 1.5); T('ATX + lido, scaled', 539, 1769, 18);

  return {
    animation: false,
    backgroundColor: '#ffffff',
    textStyle: { fontFamily: FONT },
    grid: grids.map((gr) => ({ ...gr, containLabel: false, show: false })),
    xAxis,
    yAxis,
    series,
    graphic: { elements: g },
  };
}

export default function App() {
  const ref = useRef<HTMLDivElement>(null);
  useEffect(() => {
    document.body.style.margin = '0';
    const chart = echarts.init(ref.current as HTMLDivElement, null, { renderer: 'svg' });
    chart.setOption(buildOption());
    return () => chart.dispose();
  }, []);
  return (
    <div
      ref={ref}
      style={{ position: 'absolute', left: 0, top: 0, width: 754, height: 1800, background: '#ffffff' }}
    />
  );
}
